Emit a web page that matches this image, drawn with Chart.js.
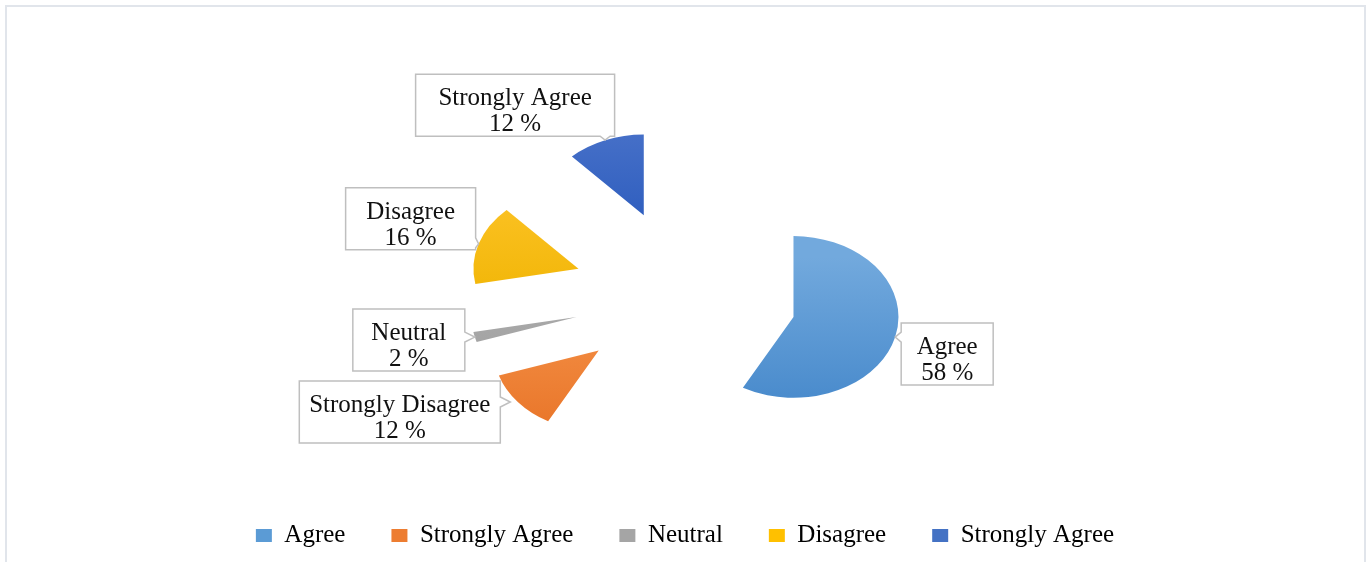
<!DOCTYPE html>
<html>
<head>
<meta charset="utf-8">
<script src="https://cdn.jsdelivr.net/npm/chart.js@4.4.1/dist/chart.umd.min.js"></script>
<style>
  html, body { margin: 0; padding: 0; background: #fff; overflow: hidden; }
  #frame { position: absolute; left: 5px; top: 5px; width: 1357px; height: 600px; border: 2px solid #e1e5eb; border-bottom: none; }
  #pie { position: absolute; left: 0; top: 0; }
</style>
</head>
<body>
<div id="frame"></div>
<canvas id="pie" width="1369" height="562"></canvas>
<script>
// survey answers, clockwise from 12 o'clock
const categories = ['Agree', 'Strongly Disagree', 'Neutral', 'Disagree', 'Strongly Agree'];
const percents = [58, 12, 2, 16, 12];
// legend entries as printed under the chart
const legendNames = ['Agree', 'Strongly Agree', 'Neutral', 'Disagree', 'Strongly Agree'];

// look of the slices: [top, bottom] of each fill gradient, plus a flat legend swatch
const fills = [
  ['#72a9dd', '#4487ca'],
  ['#f38d43', '#e3691c'],
  ['#b0b0b0', '#9a9a9a'],
  ['#ffc62e', '#efb300'],
  ['#5a7fd0', '#305fbf']
];
const swatches = ['#5b9bd5', '#ed7d31', '#a5a5a5', '#ffc000', '#4472c4'];

const RADIUS = 105;   // px
const EXPLODE = 112;  // how far every slice is pulled out, px
const TILT = 0.77;    // vertical squash of the pie

// data label boxes: centre offset from the slice's outer edge, and box size
const calloutShift = [[52, 17], [-118, 10], [-66, 3], [-68, -25], [-90, -35]];
const calloutSize = [[92, 62], [201, 62], [112, 62], [130, 62], [199, 62]];

const FONT = '"Liberation Serif", "Times New Roman", serif';
const FONT_SIZE = 25;

// pie whose slices are all pulled out by the same distance, keeping their radius
class ExplodedPieController extends Chart.PieController {
  static id = 'explodedPie';
  draw() {
    const ctx = this.chart.ctx;
    this._cachedMeta.data.forEach(arc => {
      const mid = (arc.startAngle + arc.endAngle) / 2;
      ctx.save();
      ctx.translate(Math.cos(mid) * EXPLODE, Math.sin(mid) * EXPLODE);
      arc.draw(ctx, this.chart.chartArea);
      ctx.restore();
    });
  }
}
Chart.register(ExplodedPieController);

function sliceFill(c) {
  const i = c.dataIndex;
  const area = c.chart.chartArea;
  if (!area || i === undefined) return swatches[i] || swatches[0];
  const data = c.dataset.data;
  const total = data.reduce((s, v) => s + v, 0);
  const before = data.slice(0, i).reduce((s, v) => s + v, 0);
  const mid = (before + data[i] / 2) / total * 2 * Math.PI;
  const cy = (area.top + area.bottom) / 2;
  const apexY = cy - Math.cos(mid) * EXPLODE;
  const g = c.chart.ctx.createLinearGradient(0, apexY - RADIUS, 0, apexY + RADIUS);
  g.addColorStop(0, fills[i][0]);
  g.addColorStop(1, fills[i][1]);
  return g;
}

// squash the drawn pie vertically around its centre
const tiltPlugin = {
  id: 'tilt',
  beforeDatasetsDraw(chart) {
    const { ctx, chartArea: a } = chart;
    const cx = (a.left + a.right) / 2, cy = (a.top + a.bottom) / 2;
    ctx.save();
    ctx.translate(cx, cy);
    ctx.scale(1, TILT);
    ctx.translate(-cx, -cy);
  },
  afterDatasetsDraw(chart) {
    chart.ctx.restore();
  }
};

// white label boxes with a small pointer towards their slice
const calloutPlugin = {
  id: 'callouts',
  afterDraw(chart) {
    const ctx = chart.ctx;
    const ds = chart.data.datasets[0];
    chart.getDatasetMeta(0).data.forEach((arc, i) => {
      const mid = (arc.startAngle + arc.endAngle) / 2;
      const reach = EXPLODE + arc.outerRadius;
      const tx = arc.x + Math.cos(mid) * reach;
      const ty = arc.y + Math.sin(mid) * reach * TILT;

      const [w, h] = calloutSize[i];
      const L = tx + calloutShift[i][0] - w / 2, R = L + w;
      const T = ty + calloutShift[i][1] - h / 2, B = T + h;

      const dxOut = Math.max(L - tx, 0, tx - R);
      const dyOut = Math.max(T - ty, 0, ty - B);
      const clamp = (v, lo, hi) => Math.max(lo, Math.min(hi, v));
      let notch = null;
      if (dxOut > 0 || dyOut > 0) {
        let px, py, edge;
        if (dxOut >= dyOut) {
          edge = tx < L ? 'left' : 'right';
          px = edge === 'left' ? L : R;
          py = clamp(ty, T + 7, B - 7);
        } else {
          edge = ty < T ? 'top' : 'bottom';
          py = edge === 'top' ? T : B;
          px = clamp(tx, L + 7, R - 7);
        }
        const d = Math.hypot(tx - px, ty - py) || 1;
        const len = Math.min(d, 10);
        notch = { edge, px, py, tipX: px + (tx - px) / d * len, tipY: py + (ty - py) / d * len };
      }
      const pts = [[L, T]];
      if (notch && notch.edge === 'top') pts.push([notch.px - 5, T], [notch.tipX, notch.tipY], [notch.px + 5, T]);
      pts.push([R, T]);
      if (notch && notch.edge === 'right') pts.push([R, notch.py - 5], [notch.tipX, notch.tipY], [R, notch.py + 5]);
      pts.push([R, B]);
      if (notch && notch.edge === 'bottom') pts.push([notch.px + 5, B], [notch.tipX, notch.tipY], [notch.px - 5, B]);
      pts.push([L, B]);
      if (notch && notch.edge === 'left') pts.push([L, notch.py + 5], [notch.tipX, notch.tipY], [L, notch.py - 5]);

      ctx.save();
      ctx.beginPath();
      pts.forEach(([x, y], k) => (k ? ctx.lineTo(x, y) : ctx.moveTo(x, y)));
      ctx.closePath();
      ctx.fillStyle = '#ffffff';
      ctx.fill();
      ctx.strokeStyle = '#bfbfbf';
      ctx.lineWidth = 1.5;
      ctx.stroke();

      ctx.fillStyle = '#111111';
      ctx.font = FONT_SIZE + 'px ' + FONT;
      ctx.textAlign = 'center';
      ctx.textBaseline = 'alphabetic';
      const mx = (L + R) / 2;
      ctx.fillText(chart.data.labels[i], mx, T + 31);
      ctx.fillText(ds.data[i] + ' %', mx, T + 57);
      ctx.restore();
    });
  }
};

new Chart(document.getElementById('pie'), {
  type: 'explodedPie',
  data: {
    labels: categories,
    datasets: [{
      data: percents,
      backgroundColor: sliceFill,
      borderWidth: 0,
      clip: false
    }]
  },
  options: {
    responsive: false,
    animation: false,
    events: [],
    devicePixelRatio: 1,
    radius: RADIUS,
    cutout: '0%',
    layout: { padding: { top: 114, bottom: 4, left: 3, right: 2 } },
    plugins: {
      tooltip: { enabled: false },
      legend: {
        position: 'bottom',
        labels: {
          boxWidth: 16,
          boxHeight: 13,
          padding: 46,
          color: '#111111',
          font: { family: FONT, size: FONT_SIZE },
          generateLabels: () => legendNames.map((name, i) => ({
            text: name,
            fillStyle: swatches[i],
            strokeStyle: swatches[i],
            lineWidth: 0,
            hidden: false,
            index: i
          }))
        }
      }
    }
  },
  plugins: [tiltPlugin, calloutPlugin]
});
</script>
</body>
</html>
